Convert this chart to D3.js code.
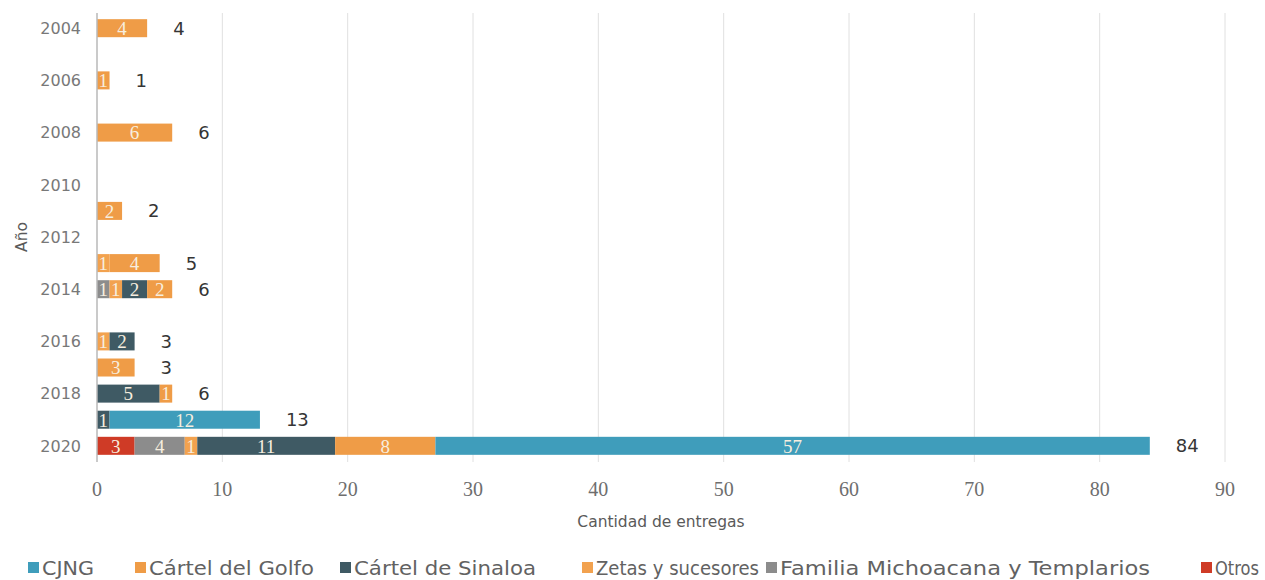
<!DOCTYPE html>
<html>
<head>
<meta charset="utf-8">
<script src="https://cdn.jsdelivr.net/npm/d3@7"></script>
<style>
  body { margin: 0; background: #fff; }
  svg { display: block; }
  .ytick { font-family: "DejaVu Sans", sans-serif; font-size: 16px; fill: #787878; }
  .xtick { font-family: "Liberation Serif", "DejaVu Serif", serif; font-size: 20px; fill: #6e6e6e; }
  .seg-label { font-family: "Liberation Serif", "DejaVu Serif", serif; font-size: 19px; fill: #f7eedf; }
  .total { font-family: "DejaVu Sans", sans-serif; font-size: 18px; fill: #353535; }
  .title { font-family: "DejaVu Sans", sans-serif; font-size: 15.5px; fill: #5a5a5a; }
  .legend { font-family: "DejaVu Sans", sans-serif; font-size: 19px; fill: #626262; }
</style>
</head>
<body>
<svg id="chart" width="1265" height="580"></svg>
<script>
const years = [2004, 2005, 2006, 2007, 2008, 2009, 2010, 2011, 2012, 2013, 2014, 2015, 2016, 2017, 2018, 2019, 2020];
const yearTicks = [2004, 2006, 2008, 2010, 2012, 2014, 2016, 2018, 2020];
const xTicks = [0, 10, 20, 30, 40, 50, 60, 70, 80, 90];

// one value per year, same order as `years`
const otros   = [0, 0, 0, 0, 0, 0, 0, 0, 0, 0, 0, 0, 0, 0, 0, 0, 3];
const familia = [0, 0, 0, 0, 0, 0, 0, 0, 0, 0, 1, 0, 0, 0, 0, 0, 4];
const zetas   = [0, 0, 0, 0, 0, 0, 0, 0, 0, 1, 1, 0, 1, 0, 0, 0, 1];
const sinaloa = [0, 0, 0, 0, 0, 0, 0, 0, 0, 0, 2, 0, 2, 0, 5, 1, 11];
const golfo   = [4, 0, 1, 0, 6, 0, 0, 2, 0, 4, 2, 0, 0, 3, 1, 0, 8];
const cjng    = [0, 0, 0, 0, 0, 0, 0, 0, 0, 0, 0, 0, 0, 0, 0, 12, 57];

// stacking order, left to right
const series = [
  { key: "otros", name: "Otros", values: otros, color: "#cf3b26" },
  { key: "familia", name: "Familia Michoacana y Templarios", values: familia, color: "#8c8c8c" },
  { key: "zetas", name: "Zetas y sucesores", values: zetas, color: "#f2a24f" },
  { key: "sinaloa", name: "Cártel de Sinaloa", values: sinaloa, color: "#3f5a64" },
  { key: "golfo", name: "Cártel del Golfo", values: golfo, color: "#ef9c47" },
  { key: "cjng", name: "CJNG", values: cjng, color: "#3f9dbb" }
];
const legendOrder = ["cjng", "golfo", "sinaloa", "zetas", "familia", "otros"];
// legend item x positions and text widths (the source font is much wider)
const legendX = [28, 135, 340, 582, 766, 1201];
const legendW = [52, 165, 182, 163, 370, 44];

const svg = d3.select("#chart");
const margin = { left: 97, top: 15 };

const table = years.map((yr, i) => {
  const row = { year: yr };
  series.forEach((s) => { row[s.key] = s.values[i]; });
  return row;
});

const x = d3.scaleLinear().domain([0, 90]).range([margin.left, 1225]);
const y = d3.scaleBand().domain(years).range([margin.top, 459]).paddingInner(0.31).paddingOuter(0.16);

// gridlines
svg.append("g")
  .selectAll("line")
  .data(xTicks.slice(1))
  .join("line")
  .attr("x1", (d) => x(d)).attr("x2", (d) => x(d))
  .attr("y1", 13).attr("y2", 462)
  .attr("stroke", "#e0e0e0").attr("stroke-width", 1);

const stacked = d3.stack().keys(series.map((s) => s.key))(table);
const colorOf = new Map(series.map((s) => [s.key, s.color]));

const layers = svg.append("g")
  .selectAll("g")
  .data(stacked)
  .join("g")
  .attr("fill", (d) => colorOf.get(d.key));

layers.selectAll("rect")
  .data((d) => d.filter((p) => p[1] > p[0]))
  .join("rect")
  .attr("x", (d) => x(d[0]))
  .attr("width", (d) => x(d[1]) - x(d[0]))
  .attr("y", (d) => y(d.data.year))
  .attr("height", y.bandwidth());

layers.selectAll("text")
  .data((d) => d.filter((p) => p[1] > p[0]))
  .join("text")
  .attr("class", "seg-label")
  .attr("x", (d) => (x(d[0]) + x(d[1])) / 2)
  .attr("y", (d) => y(d.data.year) + y.bandwidth() / 2)
  .attr("dy", "0.36em")
  .attr("text-anchor", "middle")
  .text((d) => d[1] - d[0]);

// totals
const totals = table.map((r) => ({ year: r.year, total: d3.sum(series, (s) => r[s.key]) }))
  .filter((d) => d.total > 0);
svg.append("g")
  .selectAll("text")
  .data(totals)
  .join("text")
  .attr("class", "total")
  .attr("x", (d) => x(d.total) + 26)
  .attr("y", (d) => y(d.year) + y.bandwidth() / 2)
  .attr("dy", "0.36em")
  .text((d) => d.total);

// y axis line
svg.append("line")
  .attr("x1", margin.left).attr("x2", margin.left)
  .attr("y1", 13).attr("y2", 462)
  .attr("stroke", "#b8b8b8").attr("stroke-width", 1.5);

svg.append("g")
  .selectAll("text")
  .data(yearTicks)
  .join("text")
  .attr("class", "ytick")
  .attr("x", 81)
  .attr("y", (d) => y(d) + y.bandwidth() / 2)
  .attr("dy", "0.36em")
  .attr("text-anchor", "end")
  .text((d) => d);

svg.append("g")
  .selectAll("text")
  .data(xTicks)
  .join("text")
  .attr("class", "xtick")
  .attr("x", (d) => x(d))
  .attr("y", 496)
  .attr("text-anchor", "middle")
  .text((d) => d);

svg.append("text")
  .attr("class", "title")
  .attr("x", 661).attr("y", 527)
  .attr("text-anchor", "middle")
  .text("Cantidad de entregas");

svg.append("text")
  .attr("class", "title")
  .attr("transform", "translate(27,237) rotate(-90)")
  .attr("text-anchor", "middle")
  .text("Año");

// legend
const legend = svg.append("g")
  .selectAll("g")
  .data(legendOrder.map((k) => series.find((s) => s.key === k)))
  .join("g")
  .attr("transform", (d, i) => `translate(${legendX[i]},568)`);

legend.append("rect")
  .attr("x", 0).attr("y", -6)
  .attr("width", 11).attr("height", 11)
  .attr("fill", (d) => d.color);

legend.append("text")
  .attr("class", "legend")
  .attr("x", 14)
  .attr("dy", "0.36em")
  .attr("textLength", (d, i) => legendW[i])
  .attr("lengthAdjust", "spacingAndGlyphs")
  .text((d) => d.name);
</script>
</body>
</html>
